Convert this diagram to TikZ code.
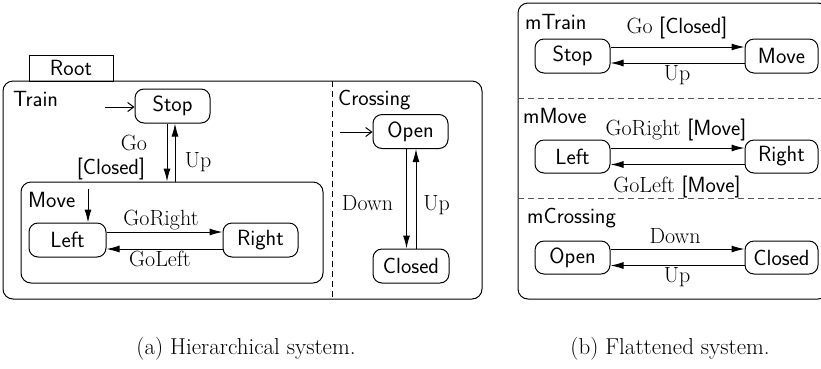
\documentclass[tikz,border=0pt]{standalone}
\usepackage{fontspec}
\usetikzlibrary{arrows.meta}
\begin{document}
\begin{tikzpicture}[x=1pt,y=-1pt,
  state/.style={draw, rounded corners=9pt, line width=1pt, inner sep=0pt, minimum width=75pt, minimum height=34pt, font=\sffamily\fontsize{22}{26}\selectfont},
  cont/.style={draw, rounded corners=10pt, line width=1pt, inner sep=0pt},
  tr/.style={line width=1pt, -{Latex[length=13pt,width=7pt]}},
  init/.style={line width=1pt, -{Straight Barb[length=6pt,width=9pt]}},
  lbl/.style={font=\sffamily\fontsize{22}{26}\selectfont, anchor=base west, inner sep=0pt},
  rl/.style={font=\rmfamily\fontsize{22}{26}\selectfont, anchor=base, inner sep=0pt},
  div/.style={line width=1pt, dash pattern=on 6pt off 4pt},
  captext/.style={font=\rmfamily\fontsize{23}{27}\selectfont, inner sep=0pt, anchor=base}
]
\useasboundingbox (0,0) rectangle (821,368);
\clip (0,0) rectangle (821,368);

% ---------- (a) hierarchical ----------
\node[cont, minimum width=479pt, minimum height=218pt] (outer) at (242.5,190) {};
\node[draw, line width=1pt, minimum width=84pt, minimum height=26pt, inner sep=0pt, font=\sffamily\fontsize{22}{26}\selectfont] (root) at (71,68) {Root};
\coordinate (dtop) at (332,81);
\coordinate (dbot) at (332,299);
\draw[div] (dtop) -- (dbot);

\node[lbl] (train) at (13,106) {Train};
\node[state] (stop) at (172.5,106) {Stop};
\node[cont, minimum width=302pt, minimum height=101pt] (movebox) at (172,232.5) {};
\node[lbl] (movelbl) at (28,207) {Move};
\node[state, minimum width=77pt] (left) at (67.5,240) {Left};
\node[state] (right) at (260.5,240) {Right};

\coordinate (i1) at (105,107);
\draw[init] (i1) -- (i1 -| stop.west);
\coordinate (i2) at (88,189);
\draw[tr] (i2) -- (i2 |- left.north);
\draw[tr] ([xshift=-5.5pt]stop.south) -- ([xshift=-5.5pt]stop.south |- movebox.north);
\draw[tr] ([xshift=2.5pt]stop.south |- movebox.north) -- ([xshift=2.5pt]stop.south);
\draw[tr] ([yshift=8pt]left.east) -- ([yshift=8pt]right.west);
\draw[tr] ([yshift=-9pt]right.west) -- ([yshift=-9pt]left.east);

\node[rl] (go) at (134,150) {Go};
\node[rl, font=\sffamily\fontsize{22}{26}\selectfont] (gocl) at (111,174) {[Closed]};
\node[rl] (up1) at (198,167) {Up};
\node[rl] (goright) at (161,225) {GoRight};
\node[rl] (goleft) at (160,266) {GoLeft};

\node[lbl] (crossing) at (338,105) {Crossing};
\node[state] (open) at (410.5,131.5) {Open};
\node[state, minimum width=76pt] (closed) at (411,266) {Closed};
\coordinate (i3) at (340,132);
\draw[init] (i3) -- (i3 -| open.west);
\draw[tr] ([xshift=-4pt]open.south) -- ([xshift=-4pt]open.south |- closed.north);
\draw[tr] ([xshift=5.5pt]open.south |- closed.north) -- ([xshift=5.5pt]open.south);
\node[rl] (down1) at (367.5,210) {Down};
\node[rl] (up2) at (436.5,210) {Up};

\node[captext] (capa) at (246,354) {(a) Hierarchical system.};

% ---------- (b) flattened ----------
\node[cont, minimum width=310pt, minimum height=296pt] (flat) at (673,151) {};
\coordinate (s1a) at (518,98);
\coordinate (s1b) at (830,98);
\coordinate (s2a) at (518,198);
\coordinate (s2b) at (830,198);
\draw[div, black!65] (s1a) -- (s1b);
\draw[div, black!65] (s2a) -- (s2b);

\node[lbl] (mtrain) at (525,29) {mTrain};
\node[state] (fstop) at (572.5,56) {Stop};
\node[state, minimum width=73pt] (fmove) at (781.5,56) {Move};
\draw[tr] ([yshift=9pt]fstop.east) -- ([yshift=9pt]fmove.west);
\draw[tr] ([yshift=-7pt]fmove.west) -- ([yshift=-7pt]fstop.east);
\node[rl] (fgo) at (677,33) {Go {\sffamily[Closed]}};
\node[rl] (fup1) at (677,80) {Up};

\node[lbl] (mmove) at (523,123) {mMove};
\node[state, minimum height=33pt] (fleft) at (572.5,156.5) {Left};
\node[state, minimum width=73pt, minimum height=33pt] (fright) at (781.5,156.5) {Right};
\draw[tr] ([yshift=8.5pt]fleft.east) -- ([yshift=8.5pt]fright.west);
\draw[tr] ([yshift=-8pt]fright.west) -- ([yshift=-8pt]fleft.east);
\node[rl] (fgoright) at (676,135) {GoRight {\sffamily[Move]}};
\node[rl] (fgoleft) at (677,192) {GoLeft {\sffamily[Move]}};

\node[lbl] (mcrossing) at (527,223) {mCrossing};
\node[state, minimum height=33pt] (fopen) at (572.5,257.5) {Open};
\node[state, minimum width=73pt, minimum height=33pt] (fclosed) at (781.5,257.5) {Closed};
\draw[tr] ([yshift=8.5pt]fopen.east) -- ([yshift=8.5pt]fclosed.west);
\draw[tr] ([yshift=-8pt]fclosed.west) -- ([yshift=-8pt]fopen.east);
\node[rl] (fdown) at (675,243) {Down};
\node[rl] (fup2) at (677,282) {Up};

\node[captext] (capb) at (670,354) {(b) Flattened system.};
\end{tikzpicture}
\end{document}
